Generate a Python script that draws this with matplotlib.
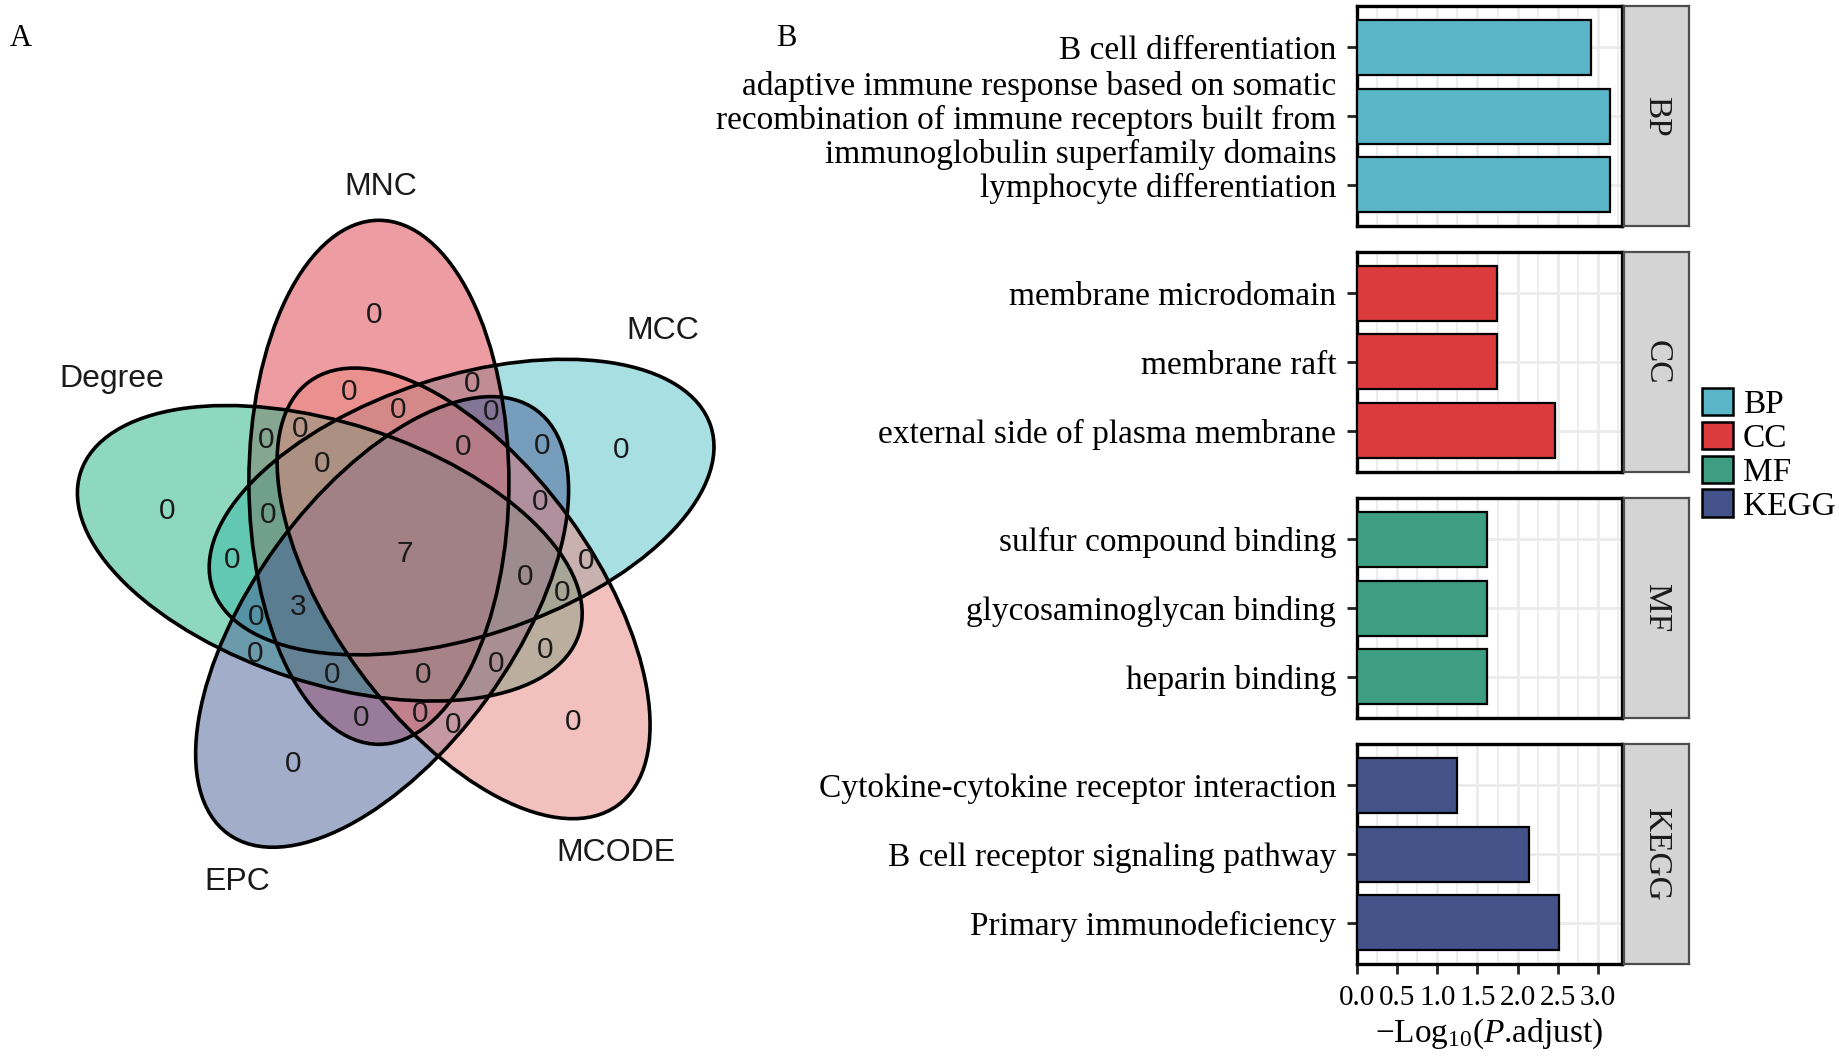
import numpy as np
import matplotlib
matplotlib.use('Agg')
import matplotlib.pyplot as plt
from matplotlib.patches import Ellipse, Patch

plt.rcParams['font.family'] = ['Liberation Serif', 'DejaVu Serif']
plt.rcParams['mathtext.fontset'] = 'custom'
plt.rcParams['mathtext.rm'] = 'Liberation Serif'
plt.rcParams['mathtext.it'] = 'Liberation Serif:italic'

W, H, DPI = 1839, 1063, 100

# ---------------- Venn data ----------------
venn_sets = ['MNC', 'MCC', 'MCODE', 'EPC', 'Degree']
venn_colors = ['#DD3B47', '#53C1C9', '#E9857D', '#475D97', '#1FB383']
# drawing order of the filled ellipses (index into venn_sets)
fill_order = [1, 0, 4, 3, 2]
# counts: 5 unique regions, all-five, one 4-way, then remaining regions
venn_counts = [0, 0, 0, 0, 0, 7, 3,
               0, 0, 0, 0, 0, 0, 0, 0, 0, 0, 0, 0,
               0, 0, 0, 0, 0, 0, 0, 0, 0, 0, 0, 0]

# ---------------- Bar data ----------------
groups = ['BP', 'CC', 'MF', 'KEGG']
group_colors = ['#5AB5C8', '#DC3B3D', '#3E9E82', '#435389']
bp_terms = ['B cell differentiation',
            'adaptive immune response based on somatic\nrecombination of immune receptors built from\nimmunoglobulin superfamily domains',
            'lymphocyte differentiation']
bp_values = [2.91, 3.15, 3.15]
cc_terms = ['membrane microdomain', 'membrane raft', 'external side of plasma membrane']
cc_values = [1.74, 1.74, 2.46]
mf_terms = ['sulfur compound binding', 'glycosaminoglycan binding', 'heparin binding']
mf_values = [1.62, 1.62, 1.62]
kegg_terms = ['Cytokine-cytokine receptor interaction', 'B cell receptor signaling pathway',
              'Primary immunodeficiency']
kegg_values = [1.24, 2.14, 2.51]
x_ticks = [0.0, 0.5, 1.0, 1.5, 2.0, 2.5, 3.0]

fig = plt.figure(figsize=(W / DPI, H / DPI), dpi=DPI)

# ---------------- Venn (panel A) ----------------
vax = fig.add_axes([0, 0, 1, 1])
vax.set_xlim(0, W)
vax.set_ylim(H, 0)
vax.axis('off')

center = np.array([403.2, 551.6])
first_offset = np.array([-24.3, -69.3])
semi_a, semi_b = 130.0, 262.0
ell_params = []
for k in range(5):
    th = np.deg2rad(72 * k)
    R = np.array([[np.cos(th), -np.sin(th)], [np.sin(th), np.cos(th)]])
    c = center + R @ first_offset
    ell_params.append((c, 72 * k))
for k in fill_order:
    c, ang = ell_params[k]
    vax.add_patch(Ellipse(c, 2 * semi_a, 2 * semi_b, angle=ang, facecolor=venn_colors[k],
                          alpha=0.5, edgecolor='none'))
for (c, ang) in ell_params:
    vax.add_patch(Ellipse(c, 2 * semi_a, 2 * semi_b, angle=ang, facecolor='none',
                          edgecolor='black', lw=2.6))

count_pos = [(374.1, 315.1), (621.3, 449.9), (572.8, 722.3), (293.6, 763.5), (167.6, 511.4),
             (405.1, 553.6), (298.5, 606.9),
             (349.4, 391.7), (472.0, 383.9), (398.3, 409.6), (491.4, 412.0), (266.0, 440.2),
             (299.9, 429.0), (463.3, 446.9), (542.3, 446.0), (321.7, 464.4), (539.9, 501.7),
             (268.4, 514.8), (232.1, 559.9), (585.9, 561.3), (525.3, 576.8), (561.7, 592.8),
             (256.3, 617.1), (255.3, 654.4), (544.7, 649.5), (332.4, 674.8), (423.5, 674.8),
             (496.2, 664.1), (361.5, 718.4), (419.7, 714.0), (453.6, 724.7)]
for n, (x, y) in zip(venn_counts, count_pos):
    vax.text(x, y, str(n), ha='center', va='center', fontsize=21.5,
             family='Liberation Sans', color='#1a1a1a')
label_pos = [(380.9, 186.7), (662.5, 330.6), (616.4, 853.1), (236.9, 882.2), (111.9, 379.1)]
for name, (x, y) in zip(venn_sets, label_pos):
    vax.text(x, y, name, ha='center', va='center', fontsize=23,
             family='Liberation Sans', color='#1a1a1a')

fig.text(21 / W, 1 - 38 / H, 'A', fontsize=22, ha='center', va='center')
fig.text(786 / W, 1 - 38 / H, 'B', fontsize=22, ha='center', va='center')

# ---------------- Bars (panel B) ----------------
term_lists = [bp_terms, cc_terms, mf_terms, kegg_terms]
value_lists = [bp_values, cc_values, mf_values, kegg_values]
p_left, p_right = 1357, 1622
s_left, s_right = 1624, 1689
tops = [6, 252, 498, 744]
ph = 220
FS = 24
for i, (g, col, terms, vals) in enumerate(zip(groups, group_colors, term_lists, value_lists)):
    ax = fig.add_axes([p_left / W, 1 - (tops[i] + ph) / H, (p_right - p_left) / W, ph / H])
    ypos = np.arange(len(terms))
    ax.barh(ypos, vals, height=0.8, color=col, edgecolor='black', linewidth=1.6, zorder=3)
    ax.set_xlim(0, 3.3)
    ax.set_ylim(len(terms) - 0.4, -0.6)
    ax.set_yticks(ypos)
    ax.set_yticklabels(terms, fontsize=FS, linespacing=1.12)
    ax.set_xticks(x_ticks)
    ax.set_xticks(np.arange(0.25, 3.3, 0.5), minor=True)
    ax.grid(which='major', color='#EBEBEB', lw=2.0, zorder=0)
    ax.grid(which='minor', axis='x', color='#EBEBEB', lw=1.2, zorder=0)
    ax.set_axisbelow(True)
    for sp in ax.spines.values():
        sp.set_linewidth(2.4)
        sp.set_color('black')
    ax.tick_params(axis='y', length=7, width=2, color='#222222', pad=8)
    ax.tick_params(axis='x', which='minor', length=0)
    if i < 3:
        ax.tick_params(axis='x', which='major', length=0, labelbottom=False)
    else:
        ax.tick_params(axis='x', which='major', length=7, width=2, color='#222222',
                       labelsize=21, pad=8)
        ax.set_xticklabels([f'{t:.1f}' for t in x_ticks])
        ax.set_xlabel('\u2212Log$_{10}$($\\mathit{P}$.adjust)', fontsize=FS, labelpad=4)
    # strip
    sax = fig.add_axes([s_left / W, 1 - (tops[i] + ph) / H, (s_right - s_left) / W, ph / H])
    sax.set_facecolor('#D4D4D4')
    sax.set_xticks([])
    sax.set_yticks([])
    for sp in sax.spines.values():
        sp.set_linewidth(1.6)
        sp.set_color('#4D4D4D')
    sax.text(0.5, 0.5, g, rotation=-90, ha='center', va='center', fontsize=FS,
             transform=sax.transAxes, color='#1a1a1a')

handles = [Patch(facecolor=c, edgecolor='black', linewidth=1.8, label=g)
           for g, c in zip(groups, group_colors)]
fig.legend(handles=handles, loc='upper left', bbox_to_anchor=(1702 / W, 1 - 388 / H),
           frameon=False, fontsize=FS, handlelength=0.92, handleheight=0.88,
           labelspacing=0.05, handletextpad=0.3, borderpad=0, borderaxespad=0)

fig.savefig('out.png', dpi=DPI)
